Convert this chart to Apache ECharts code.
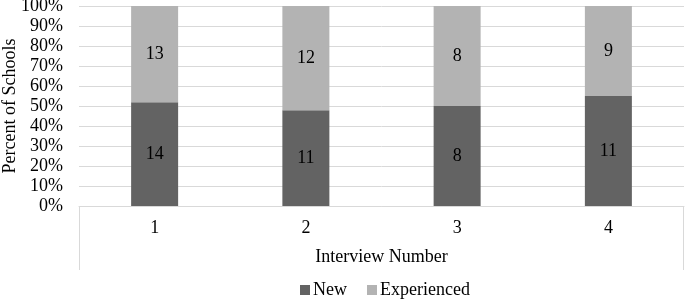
<!DOCTYPE html>
<html>
<head>
<meta charset="utf-8">
<script src="https://cdn.jsdelivr.net/npm/echarts@6/dist/echarts.min.js"></script>
<style>
  html, body { margin: 0; padding: 0; background: #fff; }
  #chart { width: 685px; height: 300px; }
</style>
</head>
<body>
<div id="chart"></div>
<script>
// interview rounds and school counts per group
const interviews = ['1', '2', '3', '4'];
const newCounts = [14, 11, 8, 11];
const experiencedCounts = [13, 12, 8, 9];
const yTicks = [0, 10, 20, 30, 40, 50, 60, 70, 80, 90, 100];

const font = '"Liberation Serif", "Times New Roman", serif';
const fs = 18;

// 100% stacked: share of each group per interview
const pct = (arr, i) => arr[i] / (newCounts[i] + experiencedCounts[i]) * 100;
const newPct = interviews.map((_, i) => pct(newCounts, i));
const expPct = interviews.map((_, i) => pct(experiencedCounts, i));

const chart = echarts.init(document.getElementById('chart'), null, { renderer: 'canvas' });

const labelStyle = { show: true, position: 'inside', color: '#000', fontFamily: font, fontSize: fs };

chart.setOption({
  animation: false,
  textStyle: { fontFamily: font },
  grid: { left: 79, right: 1, top: 6, bottom: 94, outerBoundsMode: 'none', containLabel: false },
  legend: {
    top: 276,
    left: 295,
    icon: 'rect',
    itemWidth: 10,
    itemHeight: 10,
    itemGap: 20,
    textStyle: { fontFamily: font, fontSize: fs, color: '#000', padding: [0, 0, 0, -2] },
    data: ['New', 'Experienced']
  },
  xAxis: {
    type: 'category',
    data: interviews,
    name: 'Interview Number',
    nameLocation: 'middle',
    nameGap: 42,
    nameMoveOverlap: false,
    nameTextStyle: { fontFamily: font, fontSize: fs, color: '#000' },
    axisLine: { lineStyle: { color: '#d9d9d9', width: 1 } },
    axisTick: { show: false },
    axisLabel: { margin: 13, fontFamily: font, fontSize: fs, color: '#000' }
  },
  yAxis: {
    type: 'value',
    min: 0,
    max: 100,
    interval: 10,
    name: 'Percent of Schools',
    nameLocation: 'middle',
    nameGap: 60,
    nameMoveOverlap: false,
    nameTextStyle: { fontFamily: font, fontSize: fs, color: '#000' },
    axisLine: { show: false },
    axisTick: { show: false },
    axisLabel: { margin: 16, fontFamily: font, fontSize: fs, color: '#000', formatter: v => yTicks.includes(v) ? v + '%' : '' },
    splitLine: { lineStyle: { color: '#d9d9d9', width: 1 } }
  },
  series: [
    {
      name: 'New',
      type: 'bar',
      stack: 'total',
      barWidth: 47,
      data: newPct,
      itemStyle: { color: '#636363' },
      label: Object.assign({ formatter: p => newCounts[p.dataIndex] }, labelStyle)
    },
    {
      name: 'Experienced',
      type: 'bar',
      stack: 'total',
      barWidth: 47,
      data: expPct,
      itemStyle: { color: '#b3b3b3' },
      label: Object.assign({ formatter: p => experiencedCounts[p.dataIndex] }, labelStyle)
    }
  ],
  // side borders of the category label box, like the spreadsheet original
  graphic: [
    { type: 'line', shape: { x1: 79.5, y1: 206, x2: 79.5, y2: 270 }, style: { stroke: '#d9d9d9', lineWidth: 1 } },
    { type: 'line', shape: { x1: 683.5, y1: 206, x2: 683.5, y2: 270 }, style: { stroke: '#d9d9d9', lineWidth: 1 } }
  ]
});
</script>
</body>
</html>
